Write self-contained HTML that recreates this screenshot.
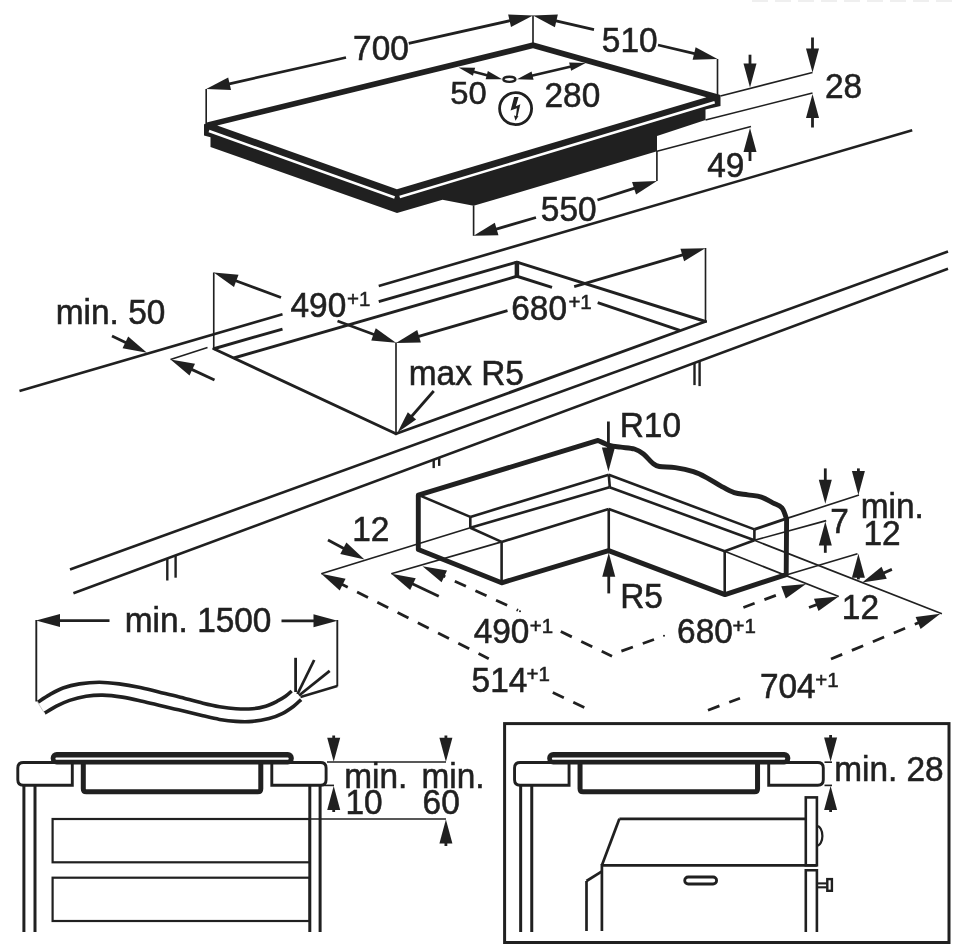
<!DOCTYPE html>
<html><head><meta charset="utf-8"><title>Hob installation</title>
<style>
html,body{margin:0;padding:0;background:#fff;}
body{width:970px;height:944px;overflow:hidden;}
svg{display:block;filter:grayscale(1) blur(0.45px);}
svg text{font-family:"Liberation Sans",sans-serif;fill:#231f20;stroke:#231f20;stroke-width:0.55px;}
</style></head><body>
<svg width="970" height="944" viewBox="0 0 970 944">
<rect width="970" height="944" fill="#fff"/>
<line x1="752" y1="0.5" x2="952" y2="0.5" stroke="#efefef" stroke-width="3" stroke-dasharray="16 7"/>
<polygon points="204,124.5 206.6,122.5 533,42.3 720.5,95 720.5,106 705.5,109.5 705.5,120 657,136 657,151.3 473.6,205.8 442.5,199.7 397,213 210.5,147 210.5,137.2 204,135.5" fill="#231f20" stroke="none" stroke-width="0" stroke-linejoin="miter"/>
<polygon points="217.2,125.4 533,48.3 706.4,97.2 396.9,189.3" fill="#fff" stroke="none" stroke-width="0" stroke-linejoin="miter"/>
<line x1="209" y1="131" x2="394.6" y2="197.5" stroke="#fff" stroke-width="2.6" stroke-linecap="butt"/>
<line x1="399.7" y1="197" x2="714.7" y2="102.3" stroke="#fff" stroke-width="2.6" stroke-linecap="butt"/>
<line x1="206.2" y1="89" x2="206.2" y2="123" stroke="#231f20" stroke-width="1.65" stroke-linecap="butt"/>
<line x1="533" y1="15.5" x2="533" y2="43" stroke="#231f20" stroke-width="1.65" stroke-linecap="butt"/>
<line x1="717.5" y1="59" x2="717.5" y2="95" stroke="#231f20" stroke-width="1.65" stroke-linecap="butt"/>
<polygon points="206.2,89 228.18,77.38 231.04,90.07" fill="#231f20"/>
<line x1="346" y1="57.5" x2="224.93" y2="84.78" stroke="#231f20" stroke-width="2.8" stroke-linecap="butt"/>
<polygon points="533,15.5 511.01,27.1 508.16,14.42" fill="#231f20"/>
<line x1="408.75" y1="43.4" x2="514.27" y2="19.71" stroke="#231f20" stroke-width="2.8" stroke-linecap="butt"/>
<text transform="translate(353.09,60) scale(1,1.03)" font-size="33.4">700</text>
<polygon points="533,15.5 557.85,14.61 554.9,27.27" fill="#231f20"/>
<line x1="594" y1="29.7" x2="551.7" y2="19.85" stroke="#231f20" stroke-width="2.8" stroke-linecap="butt"/>
<polygon points="717.5,59 692.65,59.83 695.63,47.18" fill="#231f20"/>
<line x1="658" y1="45" x2="698.81" y2="54.6" stroke="#231f20" stroke-width="2.8" stroke-linecap="butt"/>
<text transform="translate(601.86,51.5) scale(1,1.03)" font-size="33.4">510</text>
<polygon points="502.2,79.3 485.65,79.26 487.85,71.05" fill="#231f20"/>
<polygon points="458.6,67.6 475.15,67.64 472.95,75.85" fill="#231f20"/>
<line x1="470.96" y1="70.92" x2="489.84" y2="75.98" stroke="#231f20" stroke-width="2.6" stroke-linecap="butt"/>
<polygon points="585.7,63 571.11,70.83 569.15,62.56" fill="#231f20"/>
<polygon points="517,79.3 531.59,71.47 533.55,79.74" fill="#231f20"/>
<line x1="529.45" y1="76.35" x2="573.25" y2="65.95" stroke="#231f20" stroke-width="2.6" stroke-linecap="butt"/>
<ellipse cx="509.4" cy="79.3" rx="6" ry="2.6" fill="#fff" stroke="#231f20" stroke-width="2.4"/>
<text transform="translate(450.19,104.2) scale(1,0.93)" font-size="32.8">50</text>
<text transform="translate(544.52,106.6) scale(1,1.03)" font-size="33.4">280</text>
<circle cx="515.6" cy="108.6" r="16" fill="none" stroke="#231f20" stroke-width="2.8"/>
<polygon points="514.13,97.12 518.58,97.12 515.91,106.24 520.36,104.24 517.56,116.25 518.49,116.12 515.47,120.7 514.04,115.5 516,116.03 516.89,108.24 510.57,110.47" fill="#231f20" stroke="none" stroke-width="0" stroke-linejoin="miter"/>
<line x1="720.5" y1="96" x2="812.5" y2="72.5" stroke="#231f20" stroke-width="1.65" stroke-linecap="butt"/>
<line x1="705.5" y1="120" x2="812.5" y2="93" stroke="#231f20" stroke-width="1.65" stroke-linecap="butt"/>
<line x1="657" y1="151.3" x2="751" y2="126.5" stroke="#231f20" stroke-width="1.65" stroke-linecap="butt"/>
<polygon points="812.5,72.5 806,48.5 819,48.5" fill="#231f20"/>
<line x1="812.5" y1="37.5" x2="812.5" y2="53.3" stroke="#231f20" stroke-width="2.8" stroke-linecap="butt"/>
<polygon points="812.5,94 819,118 806,118" fill="#231f20"/>
<line x1="812.5" y1="127.5" x2="812.5" y2="113.2" stroke="#231f20" stroke-width="2.8" stroke-linecap="butt"/>
<polygon points="750,87.5 743.5,63.5 756.5,63.5" fill="#231f20"/>
<line x1="750" y1="54.7" x2="750" y2="68.3" stroke="#231f20" stroke-width="2.8" stroke-linecap="butt"/>
<polygon points="750,128 756.5,152 743.5,152" fill="#231f20"/>
<line x1="750" y1="161" x2="750" y2="147.2" stroke="#231f20" stroke-width="2.8" stroke-linecap="butt"/>
<text transform="translate(824.92,97.5) scale(1,1.03)" font-size="33.4">28</text>
<text transform="translate(707.23,176.5) scale(1,1.03)" font-size="33.4">49</text>
<line x1="656.9" y1="151" x2="656.9" y2="181" stroke="#231f20" stroke-width="1.65" stroke-linecap="butt"/>
<line x1="473.6" y1="205.5" x2="473.6" y2="235.8" stroke="#231f20" stroke-width="1.65" stroke-linecap="butt"/>
<polygon points="473.6,235.8 494.8,222.81 498.46,235.28" fill="#231f20"/>
<line x1="536" y1="217.5" x2="492.02" y2="230.4" stroke="#231f20" stroke-width="2.8" stroke-linecap="butt"/>
<polygon points="656.9,181 636.02,194.5 632.06,182.12" fill="#231f20"/>
<line x1="597.5" y1="200" x2="638.61" y2="186.85" stroke="#231f20" stroke-width="2.8" stroke-linecap="butt"/>
<text transform="translate(540.86,221) scale(1,1.03)" font-size="33.4">550</text>
<line x1="19.5" y1="391" x2="282.5" y2="314.3" stroke="#231f20" stroke-width="2.6" stroke-linecap="butt"/>
<line x1="378.75" y1="286.1" x2="912.2" y2="130.3" stroke="#231f20" stroke-width="2.6" stroke-linecap="butt"/>
<line x1="213.75" y1="348.75" x2="396" y2="433.75" stroke="#231f20" stroke-width="2.9" stroke-linecap="round"/>
<line x1="396" y1="433.75" x2="705.5" y2="321.5" stroke="#231f20" stroke-width="2.9" stroke-linecap="round"/>
<line x1="705.5" y1="321.5" x2="516.9" y2="262.2" stroke="#231f20" stroke-width="2.9" stroke-linecap="round"/>
<line x1="213.75" y1="348.75" x2="282.5" y2="329.1" stroke="#231f20" stroke-width="2.9" stroke-linecap="butt"/>
<line x1="378.75" y1="301.6" x2="516.9" y2="262.2" stroke="#231f20" stroke-width="2.9" stroke-linecap="butt"/>
<line x1="233.75" y1="358" x2="516.9" y2="276.25" stroke="#231f20" stroke-width="2.9" stroke-linecap="butt"/>
<line x1="516.9" y1="276.25" x2="552" y2="287.3" stroke="#231f20" stroke-width="2.9" stroke-linecap="butt"/>
<line x1="597.7" y1="302.6" x2="679.8" y2="330.3" stroke="#231f20" stroke-width="2.9" stroke-linecap="butt"/>
<line x1="516.9" y1="261" x2="516.9" y2="277.4" stroke="#231f20" stroke-width="4.5" stroke-linecap="butt"/>
<line x1="70" y1="569.5" x2="948" y2="251.5" stroke="#231f20" stroke-width="2.6" stroke-linecap="butt"/>
<line x1="73.4" y1="593.3" x2="948" y2="268.75" stroke="#231f20" stroke-width="2.6" stroke-linecap="butt"/>
<line x1="167.3" y1="559" x2="167.3" y2="580.5" stroke="#231f20" stroke-width="2.4" stroke-linecap="butt"/>
<line x1="175.6" y1="556" x2="175.6" y2="577.7" stroke="#231f20" stroke-width="2.4" stroke-linecap="butt"/>
<line x1="433.7" y1="459.5" x2="433.7" y2="468.1" stroke="#231f20" stroke-width="2.4" stroke-linecap="butt"/>
<line x1="439.2" y1="457.5" x2="439.2" y2="465.9" stroke="#231f20" stroke-width="2.4" stroke-linecap="butt"/>
<line x1="694.5" y1="363" x2="694.5" y2="385.1" stroke="#231f20" stroke-width="2.4" stroke-linecap="butt"/>
<line x1="699.6" y1="361" x2="699.6" y2="386.1" stroke="#231f20" stroke-width="2.4" stroke-linecap="butt"/>
<text transform="translate(55.78,323.5) scale(1,1.03)" font-size="33.4">min. 50</text>
<polygon points="147,352.8 122.55,348.27 128.18,336.55" fill="#231f20"/>
<line x1="112" y1="336" x2="129.69" y2="344.49" stroke="#231f20" stroke-width="2.8" stroke-linecap="butt"/>
<line x1="170.5" y1="359.5" x2="207.5" y2="347.5" stroke="#231f20" stroke-width="1.65" stroke-linecap="butt"/>
<polygon points="170.5,359.5 195,363.74 189.51,375.53" fill="#231f20"/>
<line x1="214.5" y1="380" x2="187.9" y2="367.61" stroke="#231f20" stroke-width="2.8" stroke-linecap="butt"/>
<line x1="213.75" y1="272.5" x2="213.75" y2="348.75" stroke="#231f20" stroke-width="1.65" stroke-linecap="butt"/>
<polygon points="213.75,272.5 238.51,274.77 233.98,286.96" fill="#231f20"/>
<line x1="281" y1="297.5" x2="231.75" y2="279.19" stroke="#231f20" stroke-width="2.8" stroke-linecap="butt"/>
<polygon points="396,342.7 371.24,340.45 375.76,328.26" fill="#231f20"/>
<line x1="337.5" y1="321" x2="378" y2="336.02" stroke="#231f20" stroke-width="2.8" stroke-linecap="butt"/>
<line x1="396" y1="342.5" x2="396" y2="433.75" stroke="#231f20" stroke-width="1.65" stroke-linecap="butt"/>
<text transform="translate(290.53,317.3) scale(1,1.03)" font-size="33.4">490</text>
<text transform="translate(347,306) scale(1,1.03)" font-size="20.5">+1</text>
<polygon points="396,343 417.23,330.06 420.86,342.54" fill="#231f20"/>
<line x1="507.5" y1="310.6" x2="414.44" y2="337.64" stroke="#231f20" stroke-width="2.8" stroke-linecap="butt"/>
<polygon points="705.3,248.2 684.1,261.2 680.44,248.73" fill="#231f20"/>
<line x1="574.2" y1="286.7" x2="686.88" y2="253.61" stroke="#231f20" stroke-width="2.8" stroke-linecap="butt"/>
<line x1="705.5" y1="248" x2="705.5" y2="321.5" stroke="#231f20" stroke-width="1.65" stroke-linecap="butt"/>
<text transform="translate(511.3,320) scale(1,1.03)" font-size="33.4">680</text>
<text transform="translate(568.4,309) scale(1,1.03)" font-size="20.5">+1</text>
<text transform="translate(408.78,384.5) scale(1,1.03)" font-size="33.4">max R5</text>
<polygon points="397.5,432.5 407.83,412.31 416.12,419.55" fill="#231f20"/>
<line x1="433.75" y1="391" x2="409.08" y2="419.24" stroke="#231f20" stroke-width="2.8" stroke-linecap="butt"/>
<path d="M418.3,549.5 L418.3,495.2 L598.1,440.4 C600,441.23 605.72,444.27 609.5,445.4 C613.28,446.53 616.65,446.6 620.8,447.2 C624.95,447.8 630.62,447.87 634.4,449 C638.18,450.13 640.47,451.65 643.5,454 C646.53,456.35 649.95,461.02 652.6,463.1 C655.25,465.18 655.62,465.75 659.4,466.5 C663.18,467.25 669.63,466.73 675.3,467.6 C680.97,468.47 688.12,470 693.4,471.7 C698.68,473.4 702.47,475.45 707,477.8 C711.53,480.15 716.07,483.33 720.6,485.8 C725.13,488.27 729.67,491.1 734.2,492.6 C738.73,494.1 743.27,494.05 747.8,494.8 C752.33,495.55 757.23,495.77 761.4,497.1 C765.57,498.43 769.38,501.02 772.8,502.8 C776.22,504.58 779.6,505.1 781.9,507.8 C784.2,510.5 785.82,517.13 786.6,519 L786.2,574.6 L725,594.6 L608.6,550.6 L501.6,582.8 Z" fill="none" stroke="#231f20" stroke-width="4.9" stroke-linejoin="round" stroke-linecap="butt"/>
<line x1="417.2" y1="494.4" x2="470.3" y2="516.9" stroke="#231f20" stroke-width="2.6" stroke-linecap="butt"/>
<line x1="470.3" y1="516.9" x2="470.3" y2="527.8" stroke="#231f20" stroke-width="2.6" stroke-linecap="butt"/>
<line x1="470.3" y1="527.8" x2="501.6" y2="541.9" stroke="#231f20" stroke-width="2.6" stroke-linecap="butt"/>
<line x1="501.6" y1="541.9" x2="501.6" y2="583.1" stroke="#231f20" stroke-width="2.6" stroke-linecap="butt"/>
<line x1="470.3" y1="516.9" x2="608.75" y2="474.7" stroke="#231f20" stroke-width="2.6" stroke-linecap="butt"/>
<line x1="470.3" y1="527.8" x2="609.5" y2="487.2" stroke="#231f20" stroke-width="2.6" stroke-linecap="butt"/>
<line x1="501.6" y1="541.9" x2="608.75" y2="509" stroke="#231f20" stroke-width="2.6" stroke-linecap="butt"/>
<line x1="608.75" y1="509" x2="608.75" y2="551.25" stroke="#231f20" stroke-width="2.6" stroke-linecap="butt"/>
<line x1="608.75" y1="474.7" x2="609.8" y2="487.2" stroke="#231f20" stroke-width="2.6" stroke-linecap="butt"/>
<line x1="608.75" y1="474.7" x2="754.4" y2="529.4" stroke="#231f20" stroke-width="2.6" stroke-linecap="butt"/>
<line x1="609.5" y1="487.2" x2="754.4" y2="540.3" stroke="#231f20" stroke-width="2.6" stroke-linecap="butt"/>
<line x1="608.75" y1="509" x2="724.7" y2="551.25" stroke="#231f20" stroke-width="2.6" stroke-linecap="butt"/>
<line x1="754.4" y1="529.4" x2="787" y2="518.4" stroke="#231f20" stroke-width="3" stroke-linecap="butt"/>
<line x1="754.4" y1="529.4" x2="754.4" y2="540.3" stroke="#231f20" stroke-width="2.6" stroke-linecap="butt"/>
<line x1="754.4" y1="540.3" x2="724.7" y2="551.25" stroke="#231f20" stroke-width="2.6" stroke-linecap="butt"/>
<line x1="724.7" y1="551.25" x2="724.7" y2="595" stroke="#231f20" stroke-width="2.6" stroke-linecap="butt"/>
<line x1="321.25" y1="573.75" x2="470.3" y2="527.8" stroke="#231f20" stroke-width="1.65" stroke-linecap="butt"/>
<line x1="391.25" y1="573.75" x2="501.6" y2="541.9" stroke="#231f20" stroke-width="1.65" stroke-linecap="butt"/>
<line x1="787" y1="518.4" x2="859" y2="495" stroke="#231f20" stroke-width="1.65" stroke-linecap="butt"/>
<line x1="754.4" y1="540.3" x2="826.25" y2="520.6" stroke="#231f20" stroke-width="1.65" stroke-linecap="butt"/>
<line x1="787" y1="574.7" x2="857.5" y2="553.75" stroke="#231f20" stroke-width="1.65" stroke-linecap="butt"/>
<line x1="754.4" y1="540.3" x2="941.9" y2="613.75" stroke="#231f20" stroke-width="1.65" stroke-linecap="butt"/>
<line x1="724.7" y1="551.25" x2="838.75" y2="596.5" stroke="#231f20" stroke-width="1.65" stroke-linecap="butt"/>
<polygon points="364.5,559.5 340.27,553.92 346.39,542.46" fill="#231f20"/>
<line x1="328" y1="540" x2="347.57" y2="550.45" stroke="#231f20" stroke-width="2.8" stroke-linecap="butt"/>
<polygon points="321.25,573.75 345.59,578.81 339.71,590.41" fill="#231f20"/>
<line x1="338.37" y1="582.44" x2="488.75" y2="658.75" stroke="#231f20" stroke-width="2.8" stroke-dasharray="12.2 10.5" stroke-dashoffset="1.7"/>
<polygon points="391.25,573.75 415.72,578.15 410.16,589.9" fill="#231f20"/>
<line x1="438.75" y1="596.25" x2="408.6" y2="581.97" stroke="#231f20" stroke-width="2.8" stroke-linecap="butt"/>
<polygon points="422.5,566.25 447.02,570.4 441.57,582.2" fill="#231f20"/>
<line x1="439.93" y1="574.29" x2="518" y2="610.3" stroke="#231f20" stroke-width="2.8" stroke-dasharray="12.2 10.5" stroke-dashoffset="6.3"/>
<polygon points="608.4,471.5 601.9,447.5 614.9,447.5" fill="#231f20"/>
<line x1="608.4" y1="421.5" x2="608.4" y2="452.3" stroke="#231f20" stroke-width="2.8" stroke-linecap="butt"/>
<polygon points="608.75,552.8 615.25,576.8 602.25,576.8" fill="#231f20"/>
<line x1="608.75" y1="593.4" x2="608.75" y2="572" stroke="#231f20" stroke-width="2.8" stroke-linecap="butt"/>
<polygon points="825.3,503.75 818.8,479.75 831.8,479.75" fill="#231f20"/>
<line x1="825.3" y1="468.4" x2="825.3" y2="484.55" stroke="#231f20" stroke-width="2.8" stroke-linecap="butt"/>
<polygon points="858.4,495 851.9,471 864.9,471" fill="#231f20"/>
<line x1="858.4" y1="468.4" x2="858.4" y2="475.8" stroke="#231f20" stroke-width="2.8" stroke-linecap="butt"/>
<polygon points="825.3,521.5 831.8,545.5 818.8,545.5" fill="#231f20"/>
<line x1="825.3" y1="552.8" x2="825.3" y2="540.7" stroke="#231f20" stroke-width="2.8" stroke-linecap="butt"/>
<polygon points="858.4,553.75 864.9,577.75 851.9,577.75" fill="#231f20"/>
<line x1="858.4" y1="579.4" x2="858.4" y2="572.95" stroke="#231f20" stroke-width="2.8" stroke-linecap="butt"/>
<polygon points="862.2,582.5 881.54,566.87 886.78,578.76" fill="#231f20"/>
<line x1="891.9" y1="569.4" x2="879.77" y2="574.75" stroke="#231f20" stroke-width="2.8" stroke-linecap="butt"/>
<polygon points="806,584 785.82,598.52 781.25,586.35" fill="#231f20"/>
<line x1="788.02" y1="590.75" x2="743.4" y2="607.5" stroke="#231f20" stroke-width="2.8" stroke-dasharray="12.2 10.5" stroke-dashoffset="9.7"/>
<polygon points="838.75,596.5 818.49,610.92 813.99,598.73" fill="#231f20"/>
<line x1="809" y1="607.5" x2="820.74" y2="603.16" stroke="#231f20" stroke-width="2.8" stroke-linecap="butt"/>
<polygon points="940.3,613.75 920.61,628.94 915.64,616.92" fill="#231f20"/>
<line x1="922.56" y1="621.09" x2="831" y2="659" stroke="#231f20" stroke-width="2.8" stroke-dasharray="12.2 10.5" stroke-dashoffset="3.8"/>
<line x1="560.8" y1="631.6" x2="612" y2="656.2" stroke="#231f20" stroke-width="2.8" stroke-linecap="butt" stroke-dasharray="12.2 10.5"/>
<line x1="621.4" y1="651.1" x2="654" y2="639.5" stroke="#231f20" stroke-width="2.8" stroke-linecap="butt" stroke-dasharray="12.2 10.5"/>
<circle cx="664" cy="635.7" r="1" fill="#231f20"/><circle cx="520" cy="611.3" r="1" fill="#231f20"/>
<line x1="552.8" y1="692.6" x2="584.3" y2="707.6" stroke="#231f20" stroke-width="2.8" stroke-linecap="butt" stroke-dasharray="12.2 10.5"/>
<line x1="708" y1="710.2" x2="740" y2="698.2" stroke="#231f20" stroke-width="2.8" stroke-linecap="butt" stroke-dasharray="12.2 10.5"/>
<text transform="translate(619.76,437.2) scale(1,1.03)" font-size="33.4">R10</text>
<text transform="translate(352.21,541) scale(1,1.03)" font-size="33.4">12</text>
<text transform="translate(620.16,607.5) scale(1,1.03)" font-size="33.4">R5</text>
<text transform="translate(473.63,642.5) scale(1,1.03)" font-size="33.4">490</text>
<text transform="translate(529.7,632.5) scale(1,1.03)" font-size="20.5">+1</text>
<text transform="translate(471.56,691.9) scale(1,1.03)" font-size="33.4">514</text>
<text transform="translate(526.6,681) scale(1,1.03)" font-size="20.5">+1</text>
<text transform="translate(677.1,642.5) scale(1,1.03)" font-size="33.4">680</text>
<text transform="translate(732.5,632.5) scale(1,1.03)" font-size="20.5">+1</text>
<text transform="translate(759.89,698) scale(1,1.03)" font-size="33.4">704</text>
<text transform="translate(815.3,687) scale(1,1.03)" font-size="20.5">+1</text>
<text transform="translate(830.29,532.5) scale(1,1.03)" font-size="33.4">7</text>
<text transform="translate(860.78,518.4) scale(1,1.03)" font-size="33.4">min.</text>
<text transform="translate(863.46,545) scale(1,1.03)" font-size="33.4">12</text>
<text transform="translate(841.86,619) scale(1,1.03)" font-size="33.4">12</text>
<line x1="36.3" y1="620" x2="36.3" y2="701.5" stroke="#231f20" stroke-width="1.9" stroke-linecap="butt"/>
<line x1="337.3" y1="620" x2="337.3" y2="686.4" stroke="#231f20" stroke-width="1.9" stroke-linecap="butt"/>
<polygon points="36,620.6 60,614.1 60,627.1" fill="#231f20"/>
<line x1="109.5" y1="620.6" x2="55.2" y2="620.6" stroke="#231f20" stroke-width="2.8" stroke-linecap="butt"/>
<polygon points="337.5,620.8 313.5,627.3 313.5,614.3" fill="#231f20"/>
<line x1="281.5" y1="620.8" x2="318.3" y2="620.8" stroke="#231f20" stroke-width="2.8" stroke-linecap="butt"/>
<text transform="translate(124.78,632) scale(1,1.03)" font-size="33.4">min. 1500</text>
<path d="M37.9,702.1 C39.88,700.85 45.62,696.95 49.8,694.6 C53.98,692.25 58.05,689.78 63,688 C67.95,686.22 73.45,684.85 79.5,683.9 C85.55,682.95 92.7,682.3 99.3,682.3 C105.9,682.3 112.5,683.08 119.1,683.9 C125.7,684.72 132.3,685.85 138.9,687.2 C145.5,688.55 152.1,690.4 158.7,692 C165.3,693.6 171.12,694.93 178.5,696.8 C185.88,698.67 196.17,701.55 203,703.2 C209.83,704.85 214,705.78 219.5,706.7 C225,707.62 230.5,708.37 236,708.7 C241.5,709.03 247.55,709.12 252.5,708.7 C257.45,708.28 261.58,707.45 265.7,706.2 C269.82,704.95 273.9,702.85 277.2,701.2 C280.5,699.55 283.08,698 285.5,696.3 C287.92,694.6 290.67,691.88 291.7,691" fill="none" stroke="#231f20" stroke-width="3.6" stroke-linejoin="miter" stroke-linecap="butt"/>
<path d="M44.8,713.1 C46.73,711.95 52.27,708.32 56.4,706.2 C60.53,704.08 64.65,702.05 69.6,700.4 C74.55,698.75 80.6,697.18 86.1,696.3 C91.6,695.42 96.55,694.97 102.6,695.1 C108.65,695.23 115.8,696.08 122.4,697.1 C129,698.12 135.6,699.72 142.2,701.2 C148.8,702.68 155.95,704.57 162,706 C168.05,707.43 171.67,708.17 178.5,709.8 C185.33,711.43 196.17,714.2 203,715.8 C209.83,717.4 214,718.47 219.5,719.4 C225,720.33 230.5,721.07 236,721.4 C241.5,721.73 247,721.87 252.5,721.4 C258,720.93 264.05,719.9 269,718.6 C273.95,717.3 278.08,715.67 282.2,713.6 C286.32,711.53 290.55,708.53 293.7,706.2 C296.85,703.87 299.87,700.7 301.1,699.6" fill="none" stroke="#231f20" stroke-width="3.6" stroke-linejoin="miter" stroke-linecap="butt"/>
<line x1="37.5" y1="702" x2="44" y2="712.5" stroke="#bbb" stroke-width="0.8" stroke-linecap="butt"/>
<line x1="295.6" y1="657.8" x2="295.6" y2="692" stroke="#231f20" stroke-width="2.8" stroke-linecap="butt"/>
<line x1="314.2" y1="660" x2="297.5" y2="694" stroke="#231f20" stroke-width="2.8" stroke-linecap="butt"/>
<line x1="329.7" y1="670.9" x2="299" y2="695.5" stroke="#231f20" stroke-width="2.8" stroke-linecap="butt"/>
<line x1="337.3" y1="686" x2="300.5" y2="697" stroke="#231f20" stroke-width="2.4" stroke-linecap="butt"/>
<path d="M72.3,762.5 L23.3,762.5 Q17.8,762.5 17.8,768 L17.8,779.7 Q17.8,785.2 23.3,785.2 L72.3,785.2 Z" fill="#fff" stroke="#231f20" stroke-width="2.9" stroke-linejoin="miter" stroke-linecap="butt"/>
<path d="M83.3,762 L83.3,788.7 Q83.3,791.7 86.3,791.7 L257.8,791.7 Q260.8,791.7 260.8,788.7 L260.8,762" fill="none" stroke="#231f20" stroke-width="5" stroke-linejoin="miter" stroke-linecap="butt"/>
<line x1="23.9" y1="785.2" x2="23.9" y2="932" stroke="#231f20" stroke-width="3" stroke-linecap="butt"/>
<line x1="35" y1="785.2" x2="35" y2="932" stroke="#231f20" stroke-width="3" stroke-linecap="butt"/>
<path d="M271.8,762.5 L320.6,762.5 Q326.1,762.5 326.1,768 L326.1,779.7 Q326.1,785.2 320.6,785.2 L271.8,785.2 Z" fill="#fff" stroke="#231f20" stroke-width="2.9" stroke-linejoin="miter" stroke-linecap="butt"/>
<rect x="50.7" y="751.9" width="243.1" height="12.5" rx="6" fill="#231f20"/>
<rect x="55.4" y="757.6" width="233.3" height="2.1" rx="1" fill="#fff"/>
<line x1="309.8" y1="785.2" x2="309.8" y2="932" stroke="#231f20" stroke-width="3" stroke-linecap="butt"/>
<line x1="320.1" y1="785.2" x2="320.1" y2="932" stroke="#231f20" stroke-width="3" stroke-linecap="butt"/>
<rect x="52.6" y="819" width="257.2" height="43.3" fill="none" stroke="#231f20" stroke-width="2.2"/>
<rect x="52.6" y="877.7" width="257.2" height="43.3" fill="none" stroke="#231f20" stroke-width="2.2"/>
<line x1="327" y1="762" x2="446" y2="762" stroke="#231f20" stroke-width="1.65" stroke-linecap="butt"/>
<line x1="321" y1="785.4" x2="334" y2="785.4" stroke="#231f20" stroke-width="1.65" stroke-linecap="butt"/>
<line x1="309.8" y1="819" x2="446" y2="819" stroke="#231f20" stroke-width="1.65" stroke-linecap="butt"/>
<polygon points="333.7,761.8 327.2,737.8 340.2,737.8" fill="#231f20"/>
<line x1="333.7" y1="735.5" x2="333.7" y2="742.6" stroke="#231f20" stroke-width="2.8" stroke-linecap="butt"/>
<polygon points="333.7,786 340.2,810 327.2,810" fill="#231f20"/>
<line x1="333.7" y1="812" x2="333.7" y2="805.2" stroke="#231f20" stroke-width="2.8" stroke-linecap="butt"/>
<polygon points="445.9,761.8 439.4,737.8 452.4,737.8" fill="#231f20"/>
<line x1="445.9" y1="735.5" x2="445.9" y2="742.6" stroke="#231f20" stroke-width="2.8" stroke-linecap="butt"/>
<polygon points="445.9,819.6 452.4,843.6 439.4,843.6" fill="#231f20"/>
<line x1="445.9" y1="846" x2="445.9" y2="838.8" stroke="#231f20" stroke-width="2.8" stroke-linecap="butt"/>
<text transform="translate(344.18,788) scale(1,1.03)" font-size="33.4">min.</text>
<text transform="translate(345.46,814.3) scale(1,1.03)" font-size="33.4">10</text>
<text transform="translate(421.48,788) scale(1,1.03)" font-size="33.4">min.</text>
<text transform="translate(422.6,814.3) scale(1,1.03)" font-size="33.4">60</text>
<rect x="504.6" y="723.6" width="444.4" height="218.9" fill="none" stroke="#231f20" stroke-width="3"/>
<path d="M569.05,762.5 L520.05,762.5 Q514.55,762.5 514.55,768 L514.55,779.7 Q514.55,785.2 520.05,785.2 L569.05,785.2 Z" fill="#fff" stroke="#231f20" stroke-width="2.9" stroke-linejoin="miter" stroke-linecap="butt"/>
<path d="M580.05,762 L580.05,788.7 Q580.05,791.7 583.05,791.7 L754.55,791.7 Q757.55,791.7 757.55,788.7 L757.55,762" fill="none" stroke="#231f20" stroke-width="5" stroke-linejoin="miter" stroke-linecap="butt"/>
<line x1="520.65" y1="785.2" x2="520.65" y2="932" stroke="#231f20" stroke-width="3" stroke-linecap="butt"/>
<line x1="531.75" y1="785.2" x2="531.75" y2="932" stroke="#231f20" stroke-width="3" stroke-linecap="butt"/>
<path d="M768.7,762.5 L817.8,762.5 Q823.3,762.5 823.3,768 L823.3,779.7 Q823.3,785.2 817.8,785.2 L768.7,785.2 Z" fill="#fff" stroke="#231f20" stroke-width="2.9" stroke-linejoin="miter" stroke-linecap="butt"/>
<rect x="547.2" y="751.9" width="243.1" height="12.5" rx="6" fill="#231f20"/>
<rect x="551.9" y="757.6" width="233.3" height="2.1" rx="1" fill="#fff"/>
<line x1="619.4" y1="818.8" x2="805.8" y2="818.8" stroke="#231f20" stroke-width="2.7" stroke-linecap="butt"/>
<line x1="619.4" y1="818.8" x2="601.9" y2="865.3" stroke="#231f20" stroke-width="2.7" stroke-linecap="butt"/>
<line x1="601.9" y1="865.3" x2="816.9" y2="865.3" stroke="#231f20" stroke-width="2.7" stroke-linecap="butt"/>
<line x1="601.9" y1="864" x2="601.9" y2="931" stroke="#231f20" stroke-width="2.7" stroke-linecap="butt"/>
<line x1="586.5" y1="881" x2="586.5" y2="931" stroke="#231f20" stroke-width="2.7" stroke-linecap="butt"/>
<line x1="586.5" y1="881" x2="601.9" y2="871.4" stroke="#231f20" stroke-width="2.7" stroke-linecap="butt"/>
<rect x="684.7" y="877" width="31.9" height="7" rx="3.5" fill="none" stroke="#231f20" stroke-width="2.8"/>
<rect x="805.8" y="797.4" width="11.1" height="67.9" fill="none" stroke="#231f20" stroke-width="2.6"/>
<path d="M805.8,932 L805.8,870.3 L816.9,870.3 L816.9,932" fill="none" stroke="#231f20" stroke-width="2.6" stroke-linejoin="miter" stroke-linecap="butt"/>
<path d="M817,826.2 A5.4,9.7 0 0 1 817,845.6" fill="none" stroke="#231f20" stroke-width="2.2" stroke-linejoin="miter" stroke-linecap="butt"/>
<rect x="827.3" y="879.1" width="4.6" height="11.7" fill="none" stroke="#231f20" stroke-width="2.4"/>
<line x1="817.3" y1="883.4" x2="826.7" y2="883.4" stroke="#231f20" stroke-width="2.1" stroke-linecap="butt"/>
<line x1="817.3" y1="887.3" x2="826.7" y2="887.3" stroke="#231f20" stroke-width="2.1" stroke-linecap="butt"/>
<line x1="824.5" y1="762.2" x2="832" y2="762.2" stroke="#231f20" stroke-width="1.65" stroke-linecap="butt"/>
<line x1="824.5" y1="785.4" x2="832" y2="785.4" stroke="#231f20" stroke-width="1.65" stroke-linecap="butt"/>
<polygon points="830.6,761.6 824.1,737.6 837.1,737.6" fill="#231f20"/>
<line x1="830.6" y1="735" x2="830.6" y2="742.4" stroke="#231f20" stroke-width="2.8" stroke-linecap="butt"/>
<polygon points="830.6,786 837.1,810 824.1,810" fill="#231f20"/>
<line x1="830.6" y1="812" x2="830.6" y2="805.2" stroke="#231f20" stroke-width="2.8" stroke-linecap="butt"/>
<text transform="translate(834.18,781.4) scale(1,1.03)" font-size="33.4">min. 28</text>
</svg>
</body></html>
